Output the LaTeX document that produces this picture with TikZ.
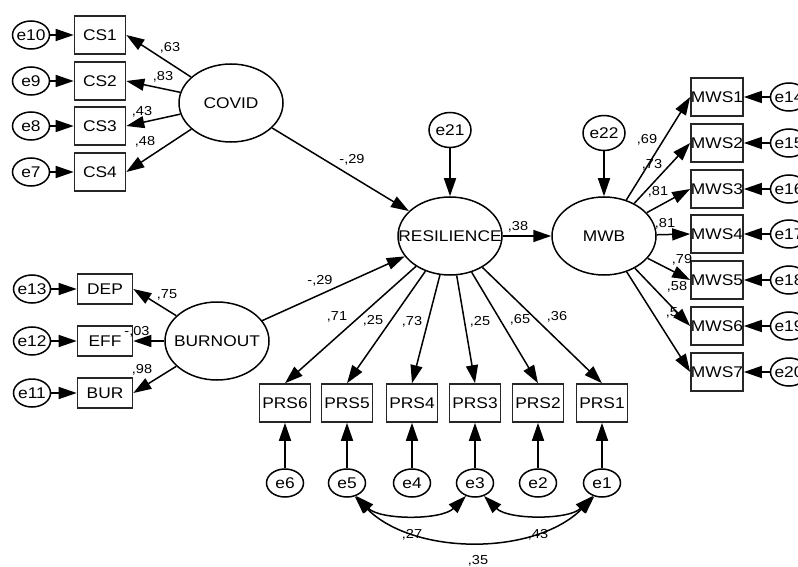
\documentclass[tikz,border=0pt]{standalone}
\usepackage{fontspec}
\setmainfont{Liberation Sans}[FakeStretch=1.12]
\usetikzlibrary{shapes.geometric,arrows.meta}

\def\ctr#1{\hbox to 0pt{\hss#1\hss}}

\tikzset{
  obs/.style={draw=black!85, line width=1.6pt, rectangle, minimum width=51pt, minimum height=38pt, inner sep=0pt, font=\fontsize{15.5}{18}\selectfont},
  obsb/.style={obs, minimum width=55pt, minimum height=30pt},
  lat/.style={draw, line width=1.5pt, ellipse, minimum width=104pt, minimum height=78pt, inner sep=0pt, font=\fontsize{15.5}{18}\selectfont},
  err/.style={draw, line width=1.5pt, ellipse, minimum width=37pt, minimum height=28pt, inner sep=0pt, font=\fontsize{15.5}{18}\selectfont},
  errb/.style={err, minimum width=42pt, minimum height=35pt},
  coef/.style={inner sep=0pt, font=\fontsize{13}{15}\selectfont},
  arr/.style={line width=1.5pt, -{Triangle[length=18pt,width=12pt]}},
  cov/.style={line width=1.5pt, {Triangle[length=18pt,width=12pt]}-{Triangle[length=18pt,width=12pt]}}
}

\begin{document}
\begin{tikzpicture}[x=1pt, y=-1pt]
      \useasboundingbox (0,0) rectangle (798,567);
      % covid block
      \node[obs] (cs1) at (100,35) {CS1};
      \node[obs] (cs2) at (100,81) {CS2};
      \node[obs] (cs3) at (100,126) {CS3};
      \node[obs] (cs4) at (100,172) {CS4};
      \node[err] (e10) at (31,35) {\ctr{e10}};
      \node[err] (e9) at (31,81) {\ctr{e9}};
      \node[err] (e8) at (31,126) {\ctr{e8}};
      \node[err] (e7) at (31,172) {\ctr{e7}};
      \node[lat] (covid) at (231,103) {\ctr{COVID}};
      % burnout block
      \node[obsb] (dep) at (105,289) {DEP};
      \node[obsb] (eff) at (105,341) {EFF};
      \node[obsb] (bur) at (105,393) {BUR};
      \node[err] (e13) at (32,289) {\ctr{e13}};
      \node[err] (e12) at (32,341) {\ctr{e12}};
      \node[err] (e11) at (32,393) {\ctr{e11}};
      \node[lat] (burn) at (217,341) {\ctr{BURNOUT}};
      % resilience and wellbeing
      \node[lat] (res) at (450,236) {\ctr{RESILIENCE}};
      \node[errb] (e21) at (450,130) {\ctr{e21}};
      \node[lat] (mwb) at (604,236) {\ctr{MWB}};
      \node[errb] (e22) at (604,133) {\ctr{e22}};
      \node[obs] (mws1) at (717,97) {MWS1};
      \node[obs] (mws2) at (717,143) {MWS2};
      \node[obs] (mws3) at (717,189) {MWS3};
      \node[obs] (mws4) at (717,234) {MWS4};
      \node[obs] (mws5) at (717,280) {MWS5};
      \node[obs] (mws6) at (717,326) {MWS6};
      \node[obs] (mws7) at (717,372) {MWS7};
      \node[err] (e14) at (789,97) {\ctr{e14}};
      \node[err] (e15) at (789,143) {\ctr{e15}};
      \node[err] (e16) at (789,189) {\ctr{e16}};
      \node[err] (e17) at (789,234) {\ctr{e17}};
      \node[err] (e18) at (789,280) {\ctr{e18}};
      \node[err] (e19) at (789,326) {\ctr{e19}};
      \node[err] (e20) at (789,372) {\ctr{e20}};
      \node[obs] (prs6) at (285,403) {PRS6};
      \node[obs] (prs5) at (347,403) {PRS5};
      \node[obs] (prs4) at (412,403) {PRS4};
      \node[obs] (prs3) at (475,403) {PRS3};
      \node[obs] (prs2) at (538,403) {PRS2};
      \node[obs] (prs1) at (602,403) {PRS1};
      \node[err] (e6) at (285,483) {\ctr{e6}};
      \node[err] (e5) at (347,483) {\ctr{e5}};
      \node[err] (e4) at (412,483) {\ctr{e4}};
      \node[err] (e3) at (475,483) {\ctr{e3}};
      \node[err] (e2) at (538,483) {\ctr{e2}};
      \node[err] (e1) at (602,483) {\ctr{e1}};
      % estimates
      \node[coef] (k1) at (170,48) {,63};
      \node[coef] (k2) at (163,77) {,83};
      \node[coef] (k3) at (142,112) {,43};
      \node[coef] (k4) at (145,142) {,48};
      \node[coef] (k5) at (352,160) {-,29};
      \node[coef] (k6) at (320,281) {-,29};
      \node[coef] (k7) at (167,295) {,75};
      \node[coef] (k8) at (137,332) {-,03};
      \node[coef] (k9) at (142,370) {,98};
      \node[coef] (k10) at (518,227) {,38};
      \node[coef] (k11) at (647,140) {,69};
      \node[coef] (k12) at (652,165) {,73};
      \node[coef] (k13) at (658,192) {,81};
      \node[coef] (k14) at (665,224) {,81};
      \node[coef] (k15) at (682,260) {,79};
      \node[coef] (k16) at (677,287) {,58};
      \node[coef] (k17) at (672,313) {,5};
      \node[coef] (k18) at (337,317) {,71};
      \node[coef] (k19) at (373,321) {,25};
      \node[coef] (k20) at (412,322) {,73};
      \node[coef] (k21) at (480,322) {,25};
      \node[coef] (k22) at (520,320) {,65};
      \node[coef] (k23) at (557,317) {,36};
      \node[coef] (k24) at (412,535) {,27};
      \node[coef] (k25) at (538,535) {,43};
      \node[coef] (k26) at (478,561) {,35};
      % paths
      \draw[arr] (e10) -- (cs1);
      \draw[arr] (e9) -- (cs2);
      \draw[arr] (e8) -- (cs3);
      \draw[arr] (e7) -- (cs4);
      \draw[arr] (covid) -- (cs1.east);
      \draw[arr] (covid) -- (cs2.east);
      \draw[arr] (covid) -- (cs3.east);
      \draw[arr] (covid) -- (cs4.east);
      \draw[arr] (e13) -- (dep);
      \draw[arr] (e12) -- (eff);
      \draw[arr] (e11) -- (bur);
      \draw[arr] (burn) -- (dep.east);
      \draw[arr] (burn) -- (eff.east);
      \draw[arr] (burn) -- (bur.east);
      \draw[arr] (covid) -- (res);
      \draw[arr] (burn) -- (res);
      \draw[arr] (e21) -- (res);
      \draw[arr] (res) -- (mwb);
      \draw[arr] (e22) -- (mwb);
      \foreach \i in {1,...,7}
        \draw[arr] (mwb) -- (mws\i.west);
      \draw[arr] (e14) -- (mws1);
      \draw[arr] (e15) -- (mws2);
      \draw[arr] (e16) -- (mws3);
      \draw[arr] (e17) -- (mws4);
      \draw[arr] (e18) -- (mws5);
      \draw[arr] (e19) -- (mws6);
      \draw[arr] (e20) -- (mws7);
      \foreach \i in {1,...,6} {
        \draw[arr] (res) -- (prs\i.north);
        \draw[arr] (e\i) -- (prs\i);
      }
      % correlated errors
      \draw[cov] (e5.-55) to[out=-45, in=-135, looseness=0.8] (e3.-125);
      \draw[cov] (e3.-55) to[out=-45, in=-135, looseness=0.8] (e1.-125);
      \draw[cov] (e5.-60) to[out=-45, in=-135, looseness=0.9] (e1.-120);
\end{tikzpicture}
\end{document}
